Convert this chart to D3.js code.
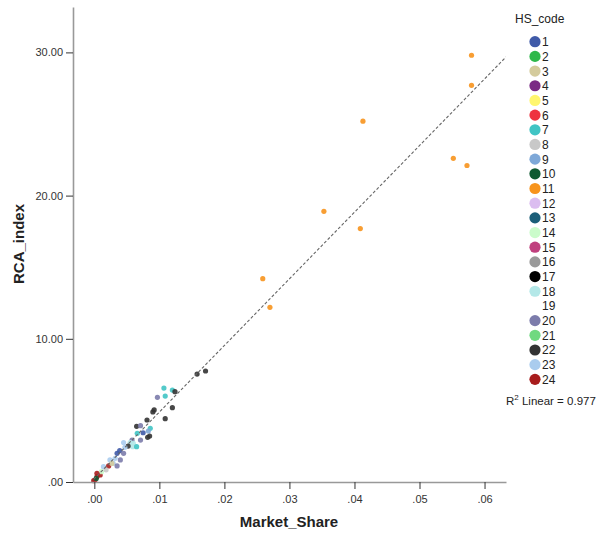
<!DOCTYPE html>
<html>
<head>
<meta charset="utf-8">
<script src="https://cdn.jsdelivr.net/npm/d3@7"></script>
<style>
  body { margin: 0; background: #fff; }
  text { font-family: "Liberation Sans", Arial, sans-serif; }
</style>
</head>
<body>
<div id="chart"></div>
<script>
// legend categories and their colours
const hsCodes = ['1','2','3','4','5','6','7','8','9','10','11','12','13','14','15','16','17','18','19','20','21','22','23','24'];
const hsColors = ['#3f5aa8','#2eb84a','#d4cb9c','#7a2a84','#fff66e','#ee3340','#40c4c4','#c8c8c8','#7ea8d8','#0f5a32','#f7941d','#dbbdf0','#1b5e78','#cbfccb','#c0407e','#9a9a9a','#000000','#b4e8e8',null,'#7c7cab','#70d980','#333333','#aaccee','#a81c1c'];

// points: HS code, market share, RCA index
const pointCode = [
  '11','11','11','11','11','11','11','11','11',
  '22','22','7','7','22','7','20','22','22','22','22','22','22','20','7','9','1','7','22','22','20','20','23','18','18','18','7','22','23','1','20','1','20','23','23','24','23','24','24','24','24','14','23','20','24','10','8','3'
];
const marketShare = [
  0.0580,0.0580,0.0413,0.0552,0.0573,0.0353,0.0409,0.0259,0.0270,
  0.0158,0.0171,0.0107,0.0120,0.0124,0.0109,0.0097,0.0092,0.0090,0.0120,0.0109,0.0081,0.0065,0.0071,0.0086,0.0083,0.0075,0.0066,0.0082,0.0085,0.0071,0.0058,0.0045,0.0055,0.0060,0.0059,0.0065,0.0052,0.0047,0.0039,0.0045,0.0035,0.0040,0.0032,0.0024,0.0022,0.0014,0.0009,0.0004,0.0001,-0.0001,0.0011,0.0029,0.0035,0.0004,0.0003,0.0018,0.0027
];
const rcaIndex = [
  29.8,27.7,25.2,22.6,22.1,18.9,17.7,14.2,12.2,
  7.54,7.75,6.56,6.42,6.31,6.00,5.91,5.03,4.89,5.19,4.42,4.33,3.89,3.93,3.75,3.56,3.44,3.40,3.12,3.21,2.93,2.93,2.75,2.75,2.70,2.47,2.47,2.51,2.42,2.19,2.00,2.00,1.54,1.65,1.54,1.12,1.07,0.49,0.37,0.14,0.09,0.72,1.31,1.12,0.61,0.25,0.85,1.30
];

const xTicks = [0, 0.01, 0.02, 0.03, 0.04, 0.05, 0.06];
const yTicks = [0, 10, 20, 30];

const W = 599, H = 534;
const svg = d3.select('#chart').append('svg').attr('width', W).attr('height', H);

const x = d3.scaleLinear().domain([-0.00328, 0.0633]).range([73, 506]);
const y = d3.scaleLinear().domain([0, 33.17]).range([482, 7]);

const data = pointCode.map((c, i) => ({ code: c, x: marketShare[i], y: rcaIndex[i] }));
const color = d3.scaleOrdinal().domain(hsCodes).range(hsColors);

// least squares fit
const mx = d3.mean(data, d => d.x), my = d3.mean(data, d => d.y);
const sxy = d3.sum(data, d => (d.x - mx) * (d.y - my));
const sxx = d3.sum(data, d => (d.x - mx) ** 2);
const slope = sxy / sxx, icpt = my - slope * mx;

svg.append('defs').append('clipPath').attr('id', 'plotclip')
  .append('rect').attr('x', 73).attr('y', 7).attr('width', 433).attr('height', 475);

// points
svg.append('g').selectAll('circle')
  .data(data)
  .join('circle')
  .attr('cx', d => x(d.x))
  .attr('cy', d => y(d.y))
  .attr('r', 2.6)
  .attr('fill', d => color(d.code))
  .attr('fill-opacity', 0.9);

// fit line
const x0 = d3.min(data, d => d.x), x1 = x.domain()[1];
svg.append('line')
  .attr('clip-path', 'url(#plotclip)')
  .attr('x1', x(x0)).attr('y1', y(icpt + slope * x0))
  .attr('x2', x(x1)).attr('y2', y(icpt + slope * x1))
  .attr('stroke', '#666').attr('stroke-width', 1.1).attr('stroke-dasharray', '3,2');

// axes
const xAxis = svg.append('g').attr('transform', 'translate(0,482)')
  .call(d3.axisBottom(x).tickValues(xTicks).tickSize(7).tickSizeOuter(0).tickFormat(d => d3.format('.2f')(d).replace(/^0/, '')));
const yAxis = svg.append('g').attr('transform', 'translate(73,0)')
  .call(d3.axisLeft(y).tickValues(yTicks).tickSize(7).tickSizeOuter(0).tickFormat(d => d3.format('.2f')(d).replace(/^0/, '')));
[xAxis, yAxis].forEach(a => {
  a.select('.domain').attr('stroke', '#999').attr('stroke-width', 1.6);
  a.selectAll('.tick line').attr('stroke', '#333');
  a.selectAll('.tick text').attr('fill', '#333').style('font-size', '11px');
});
xAxis.selectAll('.tick text').attr('dy', '1em');

svg.append('text').attr('x', 289).attr('y', 527).attr('text-anchor', 'middle')
  .style('font-size', '15px').style('font-weight', 'bold').attr('fill', '#222').text('Market_Share');
svg.append('text').attr('transform', 'translate(24,244) rotate(-90)').attr('text-anchor', 'middle')
  .style('font-size', '15px').style('font-weight', 'bold').attr('fill', '#222').text('RCA_index');

// legend
const lg = svg.append('g');
lg.append('text').attr('x', 515).attr('y', 23).style('font-size', '12px').attr('fill', '#222').text('HS_code');
const items = lg.selectAll('g.item').data(hsCodes).join('g').attr('class', 'item')
  .attr('transform', (d, i) => `translate(535,${41.7 + i * 14.68})`);
items.filter((d, i) => hsColors[i]).append('circle').attr('r', 5.6).attr('fill', d => color(d));
items.append('text').attr('x', 7).attr('y', 4.5).style('font-size', '12px').attr('fill', '#222').text(d => d);

const r2 = lg.append('text').attr('x', 506).attr('y', 405).style('font-size', '11.5px').attr('fill', '#222');
r2.append('tspan').text('R');
r2.append('tspan').attr('dy', -5).style('font-size', '8px').text('2');
r2.append('tspan').attr('dy', 5).text(' Linear = 0.977');
</script>
</body>
</html>
